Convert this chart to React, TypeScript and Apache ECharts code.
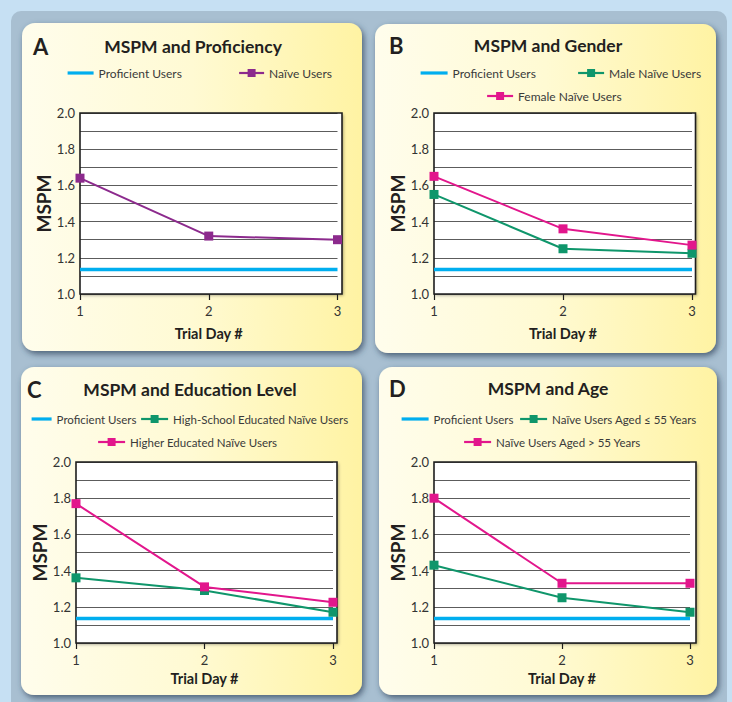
import React, { useEffect, useRef } from 'react';
import * as echarts from 'echarts';

// ---------- data ----------
const days = [1, 2, 3];
const proficientUsers = [1.135, 1.135, 1.135];
const naiveUsers = [1.64, 1.32, 1.3];
const maleNaive = [1.55, 1.25, 1.225];
const femaleNaive = [1.65, 1.36, 1.27];
const highSchoolNaive = [1.36, 1.29, 1.17];
const higherEdNaive = [1.77, 1.31, 1.225];
const agedUpTo55 = [1.43, 1.25, 1.17];
const agedOver55 = [1.8, 1.33, 1.33];

const yMin = 1.0;
const yMax = 2.0;
const yStep = 0.1;
const xMin = 1;
const xMax = 3;

const panelLetters = ['A', 'B', 'C', 'D'];
const panelTitles = ['MSPM and Proficiency', 'MSPM and Gender', 'MSPM and Education Level', 'MSPM and Age'];
const xAxisTitle = 'Trial Day #';
const yAxisTitle = 'MSPM';

const NAME_PROF = 'Proficient Users';
const panelSeries: { name: string; values: number[]; color: string }[][] = [
  [
    { name: NAME_PROF, values: proficientUsers, color: '#00aeef' },
    { name: 'Naïve Users', values: naiveUsers, color: '#8c2a8d' },
  ],
  [
    { name: NAME_PROF, values: proficientUsers, color: '#00aeef' },
    { name: 'Male Naïve Users', values: maleNaive, color: '#0f966b' },
    { name: 'Female Naïve Users', values: femaleNaive, color: '#e2168c' },
  ],
  [
    { name: NAME_PROF, values: proficientUsers, color: '#00aeef' },
    { name: 'High-School Educated Naïve Users', values: highSchoolNaive, color: '#0f966b' },
    { name: 'Higher Educated Naïve Users', values: higherEdNaive, color: '#e2168c' },
  ],
  [
    { name: NAME_PROF, values: proficientUsers, color: '#00aeef' },
    { name: 'Naïve Users Aged ≤ 55 Years', values: agedUpTo55, color: '#0f966b' },
    { name: 'Naïve Users Aged > 55 Years', values: agedOver55, color: '#e2168c' },
  ],
];

// ---------- layout ----------
const FONT = 'Lato, "Liberation Sans", sans-serif';

type Layout = {
  card: [number, number, number, number];
  grid: { left: number; top: number; width: number; height: number; frameRight: number };
  letter: [number, number];
  title: [number, number];
  legends: { left: number; cy: number; w: number }[];
  legendFont: number;
  yNameGap: number;
  xNameGap: number;
};

const layouts: Layout[] = [
  {
    card: [22, 23, 340, 328],
    grid: { left: 80, top: 113, width: 257.5, height: 181, frameRight: 342 },
    letter: [33, 46],
    title: [193, 46],
    legends: [{ left: 66, cy: 73, w: 26 }, { left: 238, cy: 73, w: 25 }],
    legendFont: 12,
    yNameGap: 25,
    xNameGap: 32,
  },
  {
    card: [375, 24, 341, 329],
    grid: { left: 434, top: 113, width: 258, height: 181, frameRight: 695.5 },
    letter: [389, 45],
    title: [548, 45],
    legends: [{ left: 419, cy: 73, w: 27 }, { left: 577, cy: 73, w: 26 }, { left: 486, cy: 96, w: 26 }],
    legendFont: 12,
    yNameGap: 21,
    xNameGap: 32,
  },
  {
    card: [21, 367, 341, 328],
    grid: { left: 76, top: 462, width: 257, height: 181, frameRight: 337 },
    letter: [27, 389],
    title: [190, 389],
    legends: [{ left: 30, cy: 419, w: 20 }, { left: 140, cy: 419, w: 27 }, { left: 97, cy: 442, w: 27 }],
    legendFont: 11.5,
    yNameGap: 25,
    xNameGap: 28,
  },
  {
    card: [379, 367, 338, 328],
    grid: { left: 434, top: 462, width: 256, height: 181, frameRight: 696 },
    letter: [389, 388],
    title: [548, 388],
    legends: [{ left: 400, cy: 419, w: 27 }, { left: 519, cy: 419, w: 27 }, { left: 463, cy: 442, w: 27 }],
    legendFont: 11.5,
    yNameGap: 25,
    xNameGap: 28,
  },
];

function buildOption() {
  const grids: any[] = [];
  const xAxes: any[] = [];
  const yAxes: any[] = [];
  const series: any[] = [];
  const legends: any[] = [];
  const graphics: any[] = [
    { type: 'rect', z: -30, shape: { x: 0, y: 0, width: 732, height: 702 }, style: { fill: '#c6e0f3' } },
    {
      type: 'rect', z: -29,
      shape: { x: 11, y: 11, width: 716, height: 720, r: 10 },
      style: { fill: '#a8bfd1' },
    },
  ];

  layouts.forEach((L, i) => {
    const [cx, cy, cw, ch] = L.card;
    graphics.push({
      type: 'rect', z: -20,
      shape: { x: cx, y: cy, width: cw, height: ch, r: 13 },
      style: {
        fill: new echarts.graphic.LinearGradient(0, 0, 1, 0, [
          { offset: 0, color: '#fffdec' },
          { offset: 0.5, color: '#fffad3' },
          { offset: 1, color: '#fff3a3' },
        ]),
        shadowBlur: 6, shadowOffsetX: 2, shadowOffsetY: 3, shadowColor: 'rgba(45,65,90,0.75)',
      },
    });
    const g = L.grid;
    graphics.push({
      type: 'rect', z: -10,
      shape: { x: g.left, y: g.top, width: g.frameRight - g.left, height: g.height },
      style: { fill: '#ffffff', shadowBlur: 3, shadowOffsetX: 1.5, shadowOffsetY: 1.5, shadowColor: 'rgba(0,0,0,0.35)' },
    });
    graphics.push({
      type: 'rect', z: 1,
      shape: { x: g.left, y: g.top, width: g.frameRight - g.left, height: g.height },
      style: { fill: 'none', stroke: '#1e1e1e', lineWidth: 1.6 },
    });
    graphics.push({
      type: 'text', z: 5, x: L.letter[0], y: L.letter[1],
      style: { text: panelLetters[i], font: `bold 22px ${FONT}`, fill: '#231f20', textAlign: 'left', textVerticalAlign: 'middle' },
    });
    graphics.push({
      type: 'text', z: 5, x: L.title[0], y: L.title[1],
      style: { text: panelTitles[i], font: `bold 17.5px ${FONT}`, fill: '#231f20', textAlign: 'center', textVerticalAlign: 'middle' },
    });

    grids.push({ left: g.left, top: g.top, width: g.width, height: g.height, containLabel: false });
    xAxes.push({
      gridIndex: i, type: 'value', min: xMin, max: xMax, interval: 1,
      name: xAxisTitle, nameLocation: 'middle', nameGap: L.xNameGap,
      nameTextStyle: { fontFamily: FONT, fontWeight: 'bold', fontSize: 14.5, color: '#231f20' },
      axisLine: { show: false },
      axisTick: { show: true, length: 6, lineStyle: { color: '#1e1e1e', width: 1.2 } },
      axisLabel: { margin: 10, fontFamily: FONT, fontSize: 13, color: '#333' },
      splitLine: { show: false },
    });
    yAxes.push({
      gridIndex: i, type: 'value', min: yMin, max: yMax, interval: yStep,
      name: yAxisTitle, nameLocation: 'middle', nameGap: L.yNameGap,
      nameTextStyle: { fontFamily: FONT, fontWeight: 'bold', fontSize: 19, color: '#231f20' },
      axisLine: { show: false },
      axisTick: { show: false },
      axisLabel: {
        margin: 5, fontFamily: FONT, fontSize: 13, color: '#333',
        formatter: (v: number) => {
          const k = Math.round(v * 10);
          return k % 2 === 0 ? (k / 10).toFixed(1) : '';
        },
      },
      splitLine: { show: true, lineStyle: { color: '#5c5c5c', width: 1 } },
    });

    panelSeries[i].forEach((s, j) => {
      const isProf = s.name === NAME_PROF;
      series.push({
        type: 'line', name: s.name, xAxisIndex: i, yAxisIndex: i,
        data: days.map((d, k) => [d, s.values[k]]),
        color: s.color,
        symbol: isProf ? 'none' : 'rect',
        symbolSize: 9,
        showSymbol: !isProf,
        lineStyle: { color: s.color, width: isProf ? 3.5 : 2 },
        itemStyle: { color: s.color },
        z: isProf ? 3 : 4 + j,
        silent: true,
      });
      const lp = L.legends[j];
      legends.push({
        data: [
          isProf
            ? {
                name: s.name,
                lineStyle: { width: 3.2, color: s.color },
                itemStyle: { color: 'rgba(0,0,0,0)', borderColor: 'rgba(0,0,0,0)', borderWidth: 0, opacity: 0 },
              }
            : { name: s.name, lineStyle: { width: 2.2, color: s.color } },
        ],
        left: lp.left, top: lp.cy - 7,
        padding: 0, itemWidth: lp.w, itemHeight: 10, itemGap: 5,
        selectedMode: false,
        textStyle: { fontFamily: FONT, fontSize: L.legendFont, lineHeight: 14, color: '#3a3a3a' },
      });
    });
  });

  return {
    animation: false,
    backgroundColor: 'transparent',
    grid: grids,
    xAxis: xAxes,
    yAxis: yAxes,
    series,
    legend: legends,
    graphic: { elements: graphics },
  };
}

export default function App() {
  const ref = useRef<HTMLDivElement>(null);
  useEffect(() => {
    if (!ref.current) return;
    const chart = echarts.init(ref.current, undefined, { renderer: 'svg' });
    chart.setOption(buildOption() as any);
    return () => chart.dispose();
  }, []);
  return <div ref={ref} style={{ position: 'absolute', left: 0, top: 0, width: 732, height: 702 }} />;
}
